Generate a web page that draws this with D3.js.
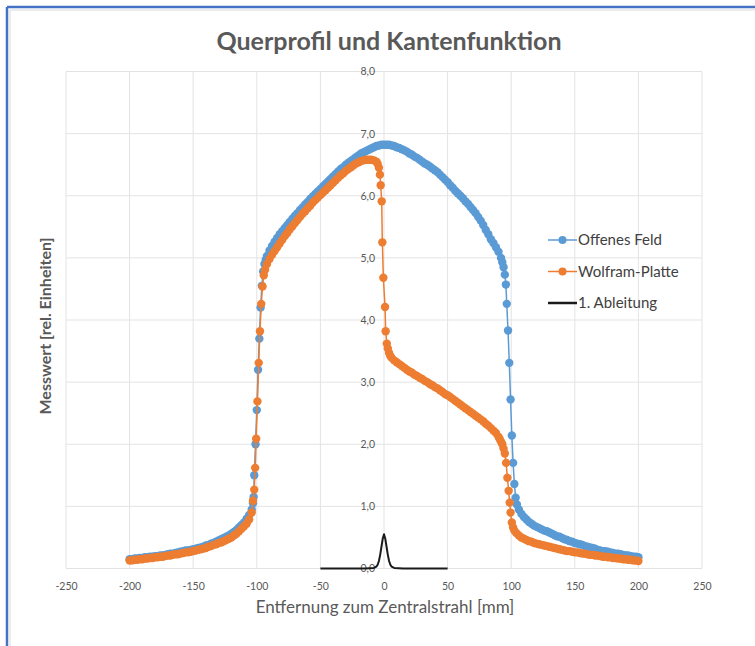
<!DOCTYPE html>
<html>
<head>
<meta charset="utf-8">
<script src="https://cdn.jsdelivr.net/npm/d3@7"></script>
<style>
  body { margin: 0; background: #fff; }
  svg { display: block; font-family: Lato, "Open Sans", sans-serif; }
</style>
</head>
<body>
<div id="chart"></div>
<script>
// values: [Entfernung mm, Messwert]
const offenesFeld = [
  [-200, 0.15], [-198, 0.15], [-196, 0.16], [-194, 0.16], [-192, 0.17], [-190, 0.17],
  [-188, 0.18], [-186, 0.18], [-184, 0.19], [-182, 0.19], [-180, 0.20], [-178, 0.20],
  [-176, 0.21], [-174, 0.21], [-172, 0.22], [-170, 0.23], [-168, 0.24], [-166, 0.24],
  [-164, 0.25], [-162, 0.26], [-160, 0.27], [-158, 0.28], [-156, 0.29], [-154, 0.29],
  [-152, 0.30], [-150, 0.31], [-148, 0.32], [-146, 0.33], [-144, 0.34], [-142, 0.35],
  [-140, 0.37], [-138, 0.38], [-136, 0.40], [-134, 0.41], [-132, 0.43], [-130, 0.45],
  [-128, 0.47], [-126, 0.49], [-124, 0.51], [-122, 0.53], [-120, 0.56], [-118, 0.59],
  [-116, 0.62], [-114, 0.66], [-112, 0.70], [-110, 0.74], [-108, 0.80], [-106, 0.86],
  [-104, 0.95], [-103, 1.05], [-102.5, 1.15], [-102, 1.5], [-101, 2.0], [-100, 2.55],
  [-99, 3.2], [-98, 3.7], [-97, 4.2], [-96, 4.55], [-95, 4.78], [-94, 4.90],
  [-93, 4.97], [-92, 5.03], [-90, 5.12], [-88, 5.19], [-86, 5.26], [-84, 5.32],
  [-82, 5.38], [-80, 5.43], [-78, 5.48], [-76, 5.53], [-74, 5.58], [-72, 5.63],
  [-70, 5.68], [-68, 5.72], [-66, 5.77], [-64, 5.81], [-62, 5.86], [-60, 5.90],
  [-58, 5.95], [-56, 5.99], [-54, 6.03], [-52, 6.07], [-50, 6.11], [-48, 6.15],
  [-46, 6.19], [-44, 6.23], [-42, 6.27], [-40, 6.31], [-38, 6.35], [-36, 6.39],
  [-34, 6.43], [-32, 6.46], [-30, 6.50], [-28, 6.53], [-26, 6.56], [-24, 6.59],
  [-22, 6.62], [-20, 6.65], [-18, 6.68], [-16, 6.70], [-14, 6.72], [-12, 6.74],
  [-10, 6.76], [-8, 6.78], [-6, 6.80], [-4, 6.81], [-2, 6.82], [0, 6.82],
  [2, 6.82], [4, 6.82], [6, 6.81], [8, 6.80], [10, 6.78], [12, 6.77],
  [14, 6.75], [16, 6.73], [18, 6.71], [20, 6.68], [22, 6.66], [24, 6.63],
  [26, 6.61], [28, 6.58], [30, 6.55], [32, 6.52], [34, 6.50], [36, 6.47],
  [38, 6.44], [40, 6.41], [42, 6.38], [44, 6.34], [46, 6.30], [48, 6.26],
  [50, 6.22], [52, 6.17], [54, 6.13], [56, 6.08], [58, 6.04], [60, 6.00],
  [62, 5.96], [64, 5.91], [66, 5.87], [68, 5.82], [70, 5.77], [72, 5.72],
  [74, 5.66], [76, 5.60], [78, 5.53], [80, 5.45], [82, 5.38], [84, 5.30],
  [86, 5.24], [88, 5.17], [90, 5.10], [92, 5.00], [93, 4.93], [94, 4.85],
  [95, 4.73], [95.8, 4.57], [96.5, 4.26], [97.5, 3.83], [98.5, 3.31], [99.5, 2.72],
  [100.5, 2.14], [101.5, 1.70], [102.5, 1.36], [103.5, 1.14], [104.5, 1.03], [106, 0.95],
  [108, 0.88], [110, 0.83], [112, 0.79], [114, 0.75], [116, 0.72], [118, 0.69],
  [120, 0.67], [122, 0.65], [124, 0.63], [126, 0.61], [128, 0.60], [130, 0.58],
  [132, 0.56], [134, 0.54], [136, 0.52], [138, 0.51], [140, 0.49], [142, 0.47],
  [144, 0.46], [146, 0.44], [148, 0.43], [150, 0.41], [152, 0.40], [154, 0.39],
  [156, 0.38], [158, 0.36], [160, 0.35], [162, 0.34], [164, 0.33], [166, 0.32],
  [168, 0.30], [170, 0.29], [172, 0.28], [174, 0.28], [176, 0.27], [178, 0.26],
  [180, 0.25], [182, 0.24], [184, 0.24], [186, 0.23], [188, 0.22], [190, 0.21],
  [192, 0.21], [194, 0.20], [196, 0.19], [198, 0.19], [200, 0.18]
];

const wolframPlatte = [
  [-200, 0.13], [-198, 0.13], [-196, 0.14], [-194, 0.14], [-192, 0.15], [-190, 0.15],
  [-188, 0.16], [-186, 0.16], [-184, 0.17], [-182, 0.17], [-180, 0.18], [-178, 0.18],
  [-176, 0.19], [-174, 0.19], [-172, 0.20], [-170, 0.21], [-168, 0.21], [-166, 0.22],
  [-164, 0.23], [-162, 0.23], [-160, 0.24], [-158, 0.25], [-156, 0.26], [-154, 0.26],
  [-152, 0.27], [-150, 0.28], [-148, 0.29], [-146, 0.30], [-144, 0.31], [-142, 0.32],
  [-140, 0.33], [-138, 0.35], [-136, 0.36], [-134, 0.38], [-132, 0.39], [-130, 0.41],
  [-128, 0.42], [-126, 0.44], [-124, 0.46], [-122, 0.48], [-120, 0.50], [-118, 0.53],
  [-116, 0.56], [-114, 0.60], [-112, 0.64], [-110, 0.68], [-108, 0.72], [-106, 0.79],
  [-104, 0.90], [-103, 1.09], [-102, 1.27], [-101.3, 1.62], [-100.5, 2.09], [-99.5, 2.69],
  [-98.5, 3.31], [-97.5, 3.82], [-96.5, 4.26], [-95.5, 4.54], [-94.5, 4.72], [-93.5, 4.81],
  [-92, 4.90], [-90, 4.98], [-88, 5.05], [-86, 5.11], [-84, 5.17], [-82, 5.23],
  [-80, 5.29], [-78, 5.35], [-76, 5.40], [-74, 5.46], [-72, 5.51], [-70, 5.56],
  [-68, 5.61], [-66, 5.66], [-64, 5.71], [-62, 5.75], [-60, 5.80], [-58, 5.84],
  [-56, 5.89], [-54, 5.93], [-52, 5.97], [-50, 6.01], [-48, 6.05], [-46, 6.09],
  [-44, 6.13], [-42, 6.17], [-40, 6.21], [-38, 6.25], [-36, 6.29], [-34, 6.33],
  [-32, 6.36], [-30, 6.40], [-28, 6.43], [-26, 6.46], [-24, 6.49], [-22, 6.52],
  [-20, 6.54], [-18, 6.56], [-16, 6.57], [-14, 6.58], [-12, 6.58], [-10, 6.58],
  [-8, 6.57], [-6, 6.55], [-5, 6.51], [-4, 6.45], [-3.2, 6.34], [-2.6, 6.17],
  [-1.8, 5.91], [-1.3, 5.25], [-0.5, 4.68], [0.8, 4.21], [1.3, 3.82], [2.2, 3.62],
  [3, 3.54], [4, 3.47], [5, 3.42], [6, 3.39], [8, 3.35], [10, 3.32],
  [12, 3.29], [14, 3.26], [16, 3.23], [18, 3.20], [20, 3.17], [22, 3.15],
  [24, 3.12], [26, 3.10], [28, 3.07], [30, 3.05], [32, 3.02], [34, 3.00],
  [36, 2.97], [38, 2.95], [40, 2.92], [42, 2.90], [44, 2.87], [46, 2.84],
  [48, 2.81], [50, 2.79], [52, 2.76], [54, 2.73], [56, 2.70], [58, 2.67],
  [60, 2.64], [62, 2.61], [64, 2.58], [66, 2.55], [68, 2.52], [70, 2.49],
  [72, 2.46], [74, 2.43], [76, 2.40], [78, 2.37], [80, 2.33], [82, 2.30],
  [84, 2.26], [86, 2.22], [88, 2.18], [90, 2.12], [91, 2.08], [92, 2.04],
  [93, 2.00], [94, 1.93], [95, 1.85], [96, 1.70], [97, 1.46], [98, 1.25],
  [98.8, 1.06], [99.5, 0.90], [100.5, 0.74], [101.5, 0.66], [102.5, 0.61], [104, 0.57],
  [106, 0.53], [108, 0.50], [110, 0.48], [112, 0.46], [114, 0.44], [116, 0.43],
  [118, 0.41], [120, 0.40], [122, 0.39], [124, 0.38], [126, 0.37], [128, 0.36],
  [130, 0.35], [132, 0.34], [134, 0.33], [136, 0.32], [138, 0.31], [140, 0.30],
  [142, 0.29], [144, 0.28], [146, 0.28], [148, 0.27], [150, 0.26], [152, 0.26],
  [154, 0.25], [156, 0.24], [158, 0.24], [160, 0.23], [162, 0.22], [164, 0.22],
  [166, 0.21], [168, 0.21], [170, 0.20], [172, 0.19], [174, 0.19], [176, 0.18],
  [178, 0.18], [180, 0.17], [182, 0.17], [184, 0.16], [186, 0.16], [188, 0.15],
  [190, 0.15], [192, 0.14], [194, 0.14], [196, 0.13], [198, 0.13], [200, 0.12]
];

const ableitung = [
  [-50, 0.0], [-30, 0.0], [-15, 0.0], [-8, 0.01], [-6, 0.03], [-5, 0.06],
  [-4, 0.12], [-3, 0.22], [-2, 0.35], [-1, 0.48], [0, 0.55], [1, 0.48],
  [2, 0.35], [3, 0.22], [4, 0.12], [5, 0.06], [6, 0.03], [8, 0.01],
  [15, 0.0], [30, 0.0], [50, 0.0]
];

const xTicks = [-250, -200, -150, -100, -50, 0, 50, 100, 150, 200, 250];
const yTicks = [0, 1, 2, 3, 4, 5, 6, 7, 8];

const seriesNames = ["Offenes Feld", "Wolfram-Platte", "1. Ableitung"];
const seriesColors = ["#5b9bd5", "#ed7d31", "#1a1a1a"];

const width = 755, height = 646;
const textColor = "#595959";

const svg = d3.select("#chart").append("svg")
  .attr("width", width)
  .attr("height", height);

svg.append("rect").attr("width", width).attr("height", height).attr("fill", "#fff");

// frame of the screenshot
svg.append("line").attr("x1", 10).attr("x2", width).attr("y1", 10).attr("y2", 10)
  .attr("stroke", "#e6e6e6").attr("stroke-width", 1.5);
svg.append("line").attr("x1", 10).attr("x2", 10).attr("y1", 10).attr("y2", height)
  .attr("stroke", "#e6e6e6").attr("stroke-width", 1.5);
svg.append("line").attr("x1", 7).attr("x2", width).attr("y1", 7).attr("y2", 7)
  .attr("stroke", "#4472c4").attr("stroke-width", 2.5);
svg.append("line").attr("x1", 7).attr("x2", 7).attr("y1", 7).attr("y2", height)
  .attr("stroke", "#4472c4").attr("stroke-width", 2.5);

const x = d3.scaleLinear().domain([-250, 250]).range([66, 702]);
const y = d3.scaleLinear().domain([0, 8]).range([568.5, 71.5]);

// gridlines
const grid = svg.append("g").attr("class", "grid");
grid.selectAll("line.v").data(xTicks).join("line")
  .attr("class", "v")
  .attr("x1", d => x(d)).attr("x2", d => x(d))
  .attr("y1", y(0)).attr("y2", y(8))
  .attr("stroke", "#e3e3e3").attr("stroke-width", 1);
grid.selectAll("line.h").data(yTicks).join("line")
  .attr("class", "h")
  .attr("x1", x(-250)).attr("x2", x(250))
  .attr("y1", d => y(d)).attr("y2", d => y(d))
  .attr("stroke", "#e3e3e3").attr("stroke-width", 1);

// axes
const fmt = d => d3.format(".1f")(d).replace(".", ",");
const xAxis = d3.axisBottom(x).tickValues(xTicks).tickSize(0).tickPadding(14)
  .tickFormat(d => String(d));
const yAxis = d3.axisLeft(y).tickValues(yTicks).tickSize(0).tickPadding(9).tickFormat(fmt);

const gx = svg.append("g").attr("transform", `translate(0,${y(0)})`).call(xAxis);
const gy = svg.append("g").attr("transform", `translate(${x(0)},0)`).call(yAxis);
[gx, gy].forEach(g => {
  g.select(".domain").remove();
  g.selectAll("text").attr("fill", textColor).style("font-size", "10.5px")
    .style("font-family", "Lato, sans-serif");
});

// series
const line = d3.line().x(d => x(d[0])).y(d => y(d[1]));

function drawSeries(data, color, withMarkers) {
  const g = svg.append("g");
  g.append("path").datum(data)
    .attr("d", line)
    .attr("fill", "none")
    .attr("stroke", color)
    .attr("stroke-width", withMarkers ? 1.5 : 2)
    .attr("stroke-linejoin", "round");
  if (withMarkers) {
    g.selectAll("circle").data(data).join("circle")
      .attr("cx", d => x(d[0]))
      .attr("cy", d => y(d[1]))
      .attr("r", 4.2)
      .attr("fill", color);
  }
}

drawSeries(offenesFeld, seriesColors[0], true);
drawSeries(wolframPlatte, seriesColors[1], true);
drawSeries(ableitung, seriesColors[2], false);

// title
svg.append("text")
  .attr("x", 389).attr("y", 50)
  .attr("text-anchor", "middle")
  .attr("fill", textColor)
  .style("font-size", "25px")
  .style("font-weight", "bold")
  .text("Querprofil und Kantenfunktion");

// axis titles
svg.append("text")
  .attr("x", 385).attr("y", 613)
  .attr("text-anchor", "middle")
  .attr("fill", textColor)
  .style("font-size", "17px")
  .text("Entfernung zum Zentralstrahl [mm]");

svg.append("text")
  .attr("transform", "translate(51,326) rotate(-90)")
  .attr("text-anchor", "middle")
  .attr("fill", textColor)
  .style("font-size", "16px")
  .style("font-weight", "bold")
  .text("Messwert [rel. Einheiten]");

// legend
const legend = svg.append("g").attr("transform", "translate(548,240)");
const items = legend.selectAll("g").data(seriesNames).join("g")
  .attr("transform", (d, i) => `translate(0,${i * 31.5})`);
items.append("line")
  .attr("x1", 0).attr("x2", 29).attr("y1", 0).attr("y2", 0)
  .attr("stroke", (d, i) => seriesColors[i])
  .attr("stroke-width", (d, i) => i === 2 ? 2.5 : 1.5);
items.filter((d, i) => i < 2).append("circle")
  .attr("cx", 14.5).attr("cy", 0).attr("r", 4)
  .attr("fill", (d, i) => seriesColors[i]);
items.append("text")
  .attr("x", 30).attr("y", 5)
  .attr("fill", "#404040")
  .style("font-size", "15px")
  .text(d => d);
</script>
</body>
</html>
